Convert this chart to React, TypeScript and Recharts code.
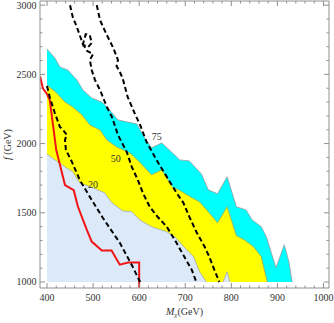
import { ComposedChart, Area, Line, XAxis, YAxis, ReferenceDot, Label } from 'recharts'

// contour boundaries, [M_chi (GeV), f (GeV)]
const cyanTop = [
  [400, 2683], [417, 2618], [428, 2553], [445, 2531], [465, 2459], [478, 2387], [497, 2329],
  [519, 2300], [536, 2243], [554, 2171], [573, 2157], [595, 2142], [612, 2041], [627, 1969],
  [649, 2005], [672, 1933], [688, 1882], [709, 1875], [735, 1781], [750, 1666], [770, 1637],
  [791, 1760], [811, 1543], [832, 1521], [845, 1449], [865, 1399], [876, 1327], [897, 1103],
  [915, 1269], [925, 1146], [932, 1000],
]
const yellowTop = [
  [400, 2423], [421, 2365], [439, 2300], [456, 2264], [476, 2206], [493, 2134], [515, 2098],
  [530, 2026], [551, 1976], [580, 1932], [601, 1867], [627, 1774], [649, 1810], [672, 1687],
  [690, 1658], [711, 1615], [731, 1579], [752, 1500], [770, 1428], [791, 1543], [811, 1334],
  [828, 1305], [848, 1255], [865, 1183], [878, 1000],
]
const blueTop = [
  [400, 1925], [417, 1882], [439, 1832], [456, 1796], [471, 1716], [500, 1680], [525, 1644],
  [541, 1572], [564, 1514], [584, 1507], [601, 1449], [627, 1399], [660, 1363], [677, 1327],
  [703, 1233], [718, 1183], [731, 1074], [746, 1000],
]
const blueSpike = [[782, 1000], [791, 1074], [797, 1000]]

const redLine = [
  [385, 2485], [391, 2400], [400, 2358], [406, 2315], [420, 1955], [439, 1700], [458, 1663],
  [467, 1545], [486, 1380], [497, 1292], [519, 1228], [540, 1228], [558, 1125], [576, 1140],
  [600, 1140], [600, 958],
]
const dash20 = [
  [400, 2416], [406, 2336], [417, 2221], [428, 2120], [435, 2098], [443, 2062], [439, 2026],
  [441, 1954], [454, 1868], [471, 1738], [493, 1615], [521, 1464], [558, 1283], [586, 1110],
  [602, 1000],
]
const dash50 = [
  [450, 3000], [456, 2913], [465, 2841], [471, 2783], [478, 2718], [484, 2790], [493, 2783],
  [497, 2726], [489, 2697], [480, 2712], [487, 2669], [500, 2647], [493, 2604], [497, 2532],
  [504, 2460], [515, 2388], [530, 2264], [541, 2192], [554, 2062], [573, 1940], [584, 1832],
  [597, 1738], [608, 1644], [623, 1543], [640, 1471], [660, 1399], [681, 1283], [698, 1182],
  [714, 1089], [724, 1000],
]
const dash75 = [
  [508, 3000], [515, 2892], [530, 2783], [543, 2697], [554, 2604], [551, 2560], [558, 2517],
  [564, 2474], [575, 2337], [590, 2221], [603, 2127], [616, 2012], [634, 1904], [644, 1846],
  [660, 1760], [681, 1644], [696, 1572], [709, 1471], [724, 1363], [742, 1255], [752, 1183],
  [763, 1089], [774, 1000],
]
const contourLabels = [
  { text: '20', x: 500, y: 1702 },
  { text: '50', x: 549, y: 1896 },
  { text: '75', x: 638, y: 2048 },
]

const xTicks = Array.from({ length: 31 }, (_, i) => 400 + i * 20)
const yTicks = Array.from({ length: 21 }, (_, i) => 1000 + i * 100)

const pts = (a: number[][]) => a.map(([x, y]) => ({ x, y }))

const FRAME = '#8f8f8f'
const TXT = '#333'
const SERIF = '"Liberation Serif", "Times New Roman", serif'
// chosen so that 400 and 1000 GeV land on whole pixels (no fringe at the shared edges)
const X_DOMAIN = [384.8, 1012]
const Y_DOMAIN = [956.65, 3030]

const tickLen = (major: boolean) => (major ? 5 : 2.5)

function BottomTick({ x, y, payload }: any) {
  const major = payload.value % 100 === 0
  return (
    <g>
      <line x1={x} x2={x} y1={y} y2={y - tickLen(major)} stroke={FRAME} />
      {major && (
        <text x={x} y={y + 12.5} textAnchor="middle" fontSize={10} fontFamily={SERIF} fill={TXT}>
          {payload.value}
        </text>
      )}
    </g>
  )
}
function TopTick({ x, y, payload }: any) {
  const major = payload.value % 100 === 0
  return <line x1={x} x2={x} y1={y} y2={y + tickLen(major)} stroke={FRAME} />
}
function LeftTick({ x, y, payload }: any) {
  const major = payload.value % 500 === 0
  return (
    <g>
      <line x1={x} x2={x + tickLen(major)} y1={y} y2={y} stroke={FRAME} />
      {major && (
        <text x={x - 3.5} y={y + 3.5} textAnchor="end" fontSize={10} fontFamily={SERIF} fill={TXT}>
          {payload.value}
        </text>
      )}
    </g>
  )
}
function RightTick({ x, y, payload }: any) {
  const major = payload.value % 500 === 0
  return <line x1={x} x2={x - tickLen(major)} y1={y} y2={y} stroke={FRAME} />
}

function XTitle({ viewBox }: any) {
  const { x, width, y } = viewBox
  return (
    <text x={x + width / 2} y={y + 27} textAnchor="middle" fontSize={10} fontFamily={SERIF} fill={TXT}>
      <tspan fontStyle="italic">M</tspan>
      <tspan fontSize={7} dy={2} fontStyle="italic">χ</tspan>
      <tspan dy={-2}>(GeV)</tspan>
    </text>
  )
}
function YTitle({ viewBox }: any) {
  const { x, y, height } = viewBox
  return (
    <text
      transform={`translate(${x + 11},${y + height / 2}) rotate(-90)`}
      textAnchor="middle" fontSize={10} fontFamily={SERIF} fill={TXT}
    >
      <tspan fontStyle="italic">f</tspan> (GeV)
    </text>
  )
}

export default function App() {
  return (
    <div style={{ position: 'absolute', left: 0, top: 0, background: '#fff' }}>
      <ComposedChart width={334} height={323} margin={{ top: 0, right: 0, bottom: 0, left: 0 }}>
        <XAxis
          xAxisId="b" dataKey="x" type="number" domain={X_DOMAIN} allowDataOverflow ticks={xTicks}
          interval={0} height={35} stroke={FRAME} tickSize={0} tickMargin={0} tickLine={false} tick={BottomTick}
        >
          <Label content={XTitle} />
        </XAxis>
        <XAxis
          xAxisId="t" orientation="top" dataKey="x" type="number" domain={X_DOMAIN} allowDataOverflow
          ticks={xTicks} interval={0} height={1} stroke={FRAME} tickSize={0} tickMargin={0} tickLine={false} tick={TopTick}
        />
        <YAxis
          yAxisId="l" dataKey="y" type="number" domain={Y_DOMAIN} allowDataOverflow ticks={yTicks}
          interval={0} width={40} stroke={FRAME} tickSize={0} tickMargin={0} tickLine={false} tick={LeftTick}
        >
          <Label content={YTitle} />
        </YAxis>
        <YAxis
          yAxisId="r" orientation="right" dataKey="y" type="number" domain={Y_DOMAIN} allowDataOverflow
          ticks={yTicks} interval={0} width={5} stroke={FRAME} tickSize={0} tickMargin={0} tickLine={false} tick={RightTick}
        />

        <Area xAxisId="b" yAxisId="l" data={pts(cyanTop)} dataKey="y" type="linear" baseValue={1000}
          fill="#00ffff" fillOpacity={1} stroke="#9a9a9a" strokeWidth={0.8} isAnimationActive={false} />
        <Area xAxisId="b" yAxisId="l" data={pts(yellowTop)} dataKey="y" type="linear" baseValue={1000}
          fill="#ffff00" fillOpacity={1} stroke="#a3a35a" strokeWidth={0.8} isAnimationActive={false} />
        <Area xAxisId="b" yAxisId="l" data={pts(blueTop)} dataKey="y" type="linear" baseValue={1000}
          fill="#dbe9f9" fillOpacity={1} stroke="#a0a8b0" strokeWidth={0.8} isAnimationActive={false} />
        <Area xAxisId="b" yAxisId="l" data={pts(blueSpike)} dataKey="y" type="linear" baseValue={1000}
          fill="#dbe9f9" fillOpacity={1} stroke="#a0a8b0" strokeWidth={0.8} isAnimationActive={false} />

        <Line xAxisId="b" yAxisId="l" data={pts(redLine)} dataKey="y" type="linear" stroke="#f01414"
          strokeWidth={2} dot={false} isAnimationActive={false} />
        <Line xAxisId="b" yAxisId="l" data={pts(dash20)} dataKey="y" type="linear" stroke="#000"
          strokeWidth={2} strokeDasharray="5 3" dot={false} isAnimationActive={false} />
        <Line xAxisId="b" yAxisId="l" data={pts(dash50)} dataKey="y" type="linear" stroke="#000"
          strokeWidth={2} strokeDasharray="5 3" dot={false} isAnimationActive={false} />
        <Line xAxisId="b" yAxisId="l" data={pts(dash75)} dataKey="y" type="linear" stroke="#000"
          strokeWidth={2} strokeDasharray="5 3" dot={false} isAnimationActive={false} />

        {contourLabels.map((c) => (
          <ReferenceDot key={c.text} xAxisId="b" yAxisId="l" x={c.x} y={c.y} r={0} fill="none" stroke="none"
            label={{ value: c.text, position: 'center', fontSize: 10, fontFamily: SERIF, fill: TXT }} />
        ))}
      </ComposedChart>
    </div>
  )
}
